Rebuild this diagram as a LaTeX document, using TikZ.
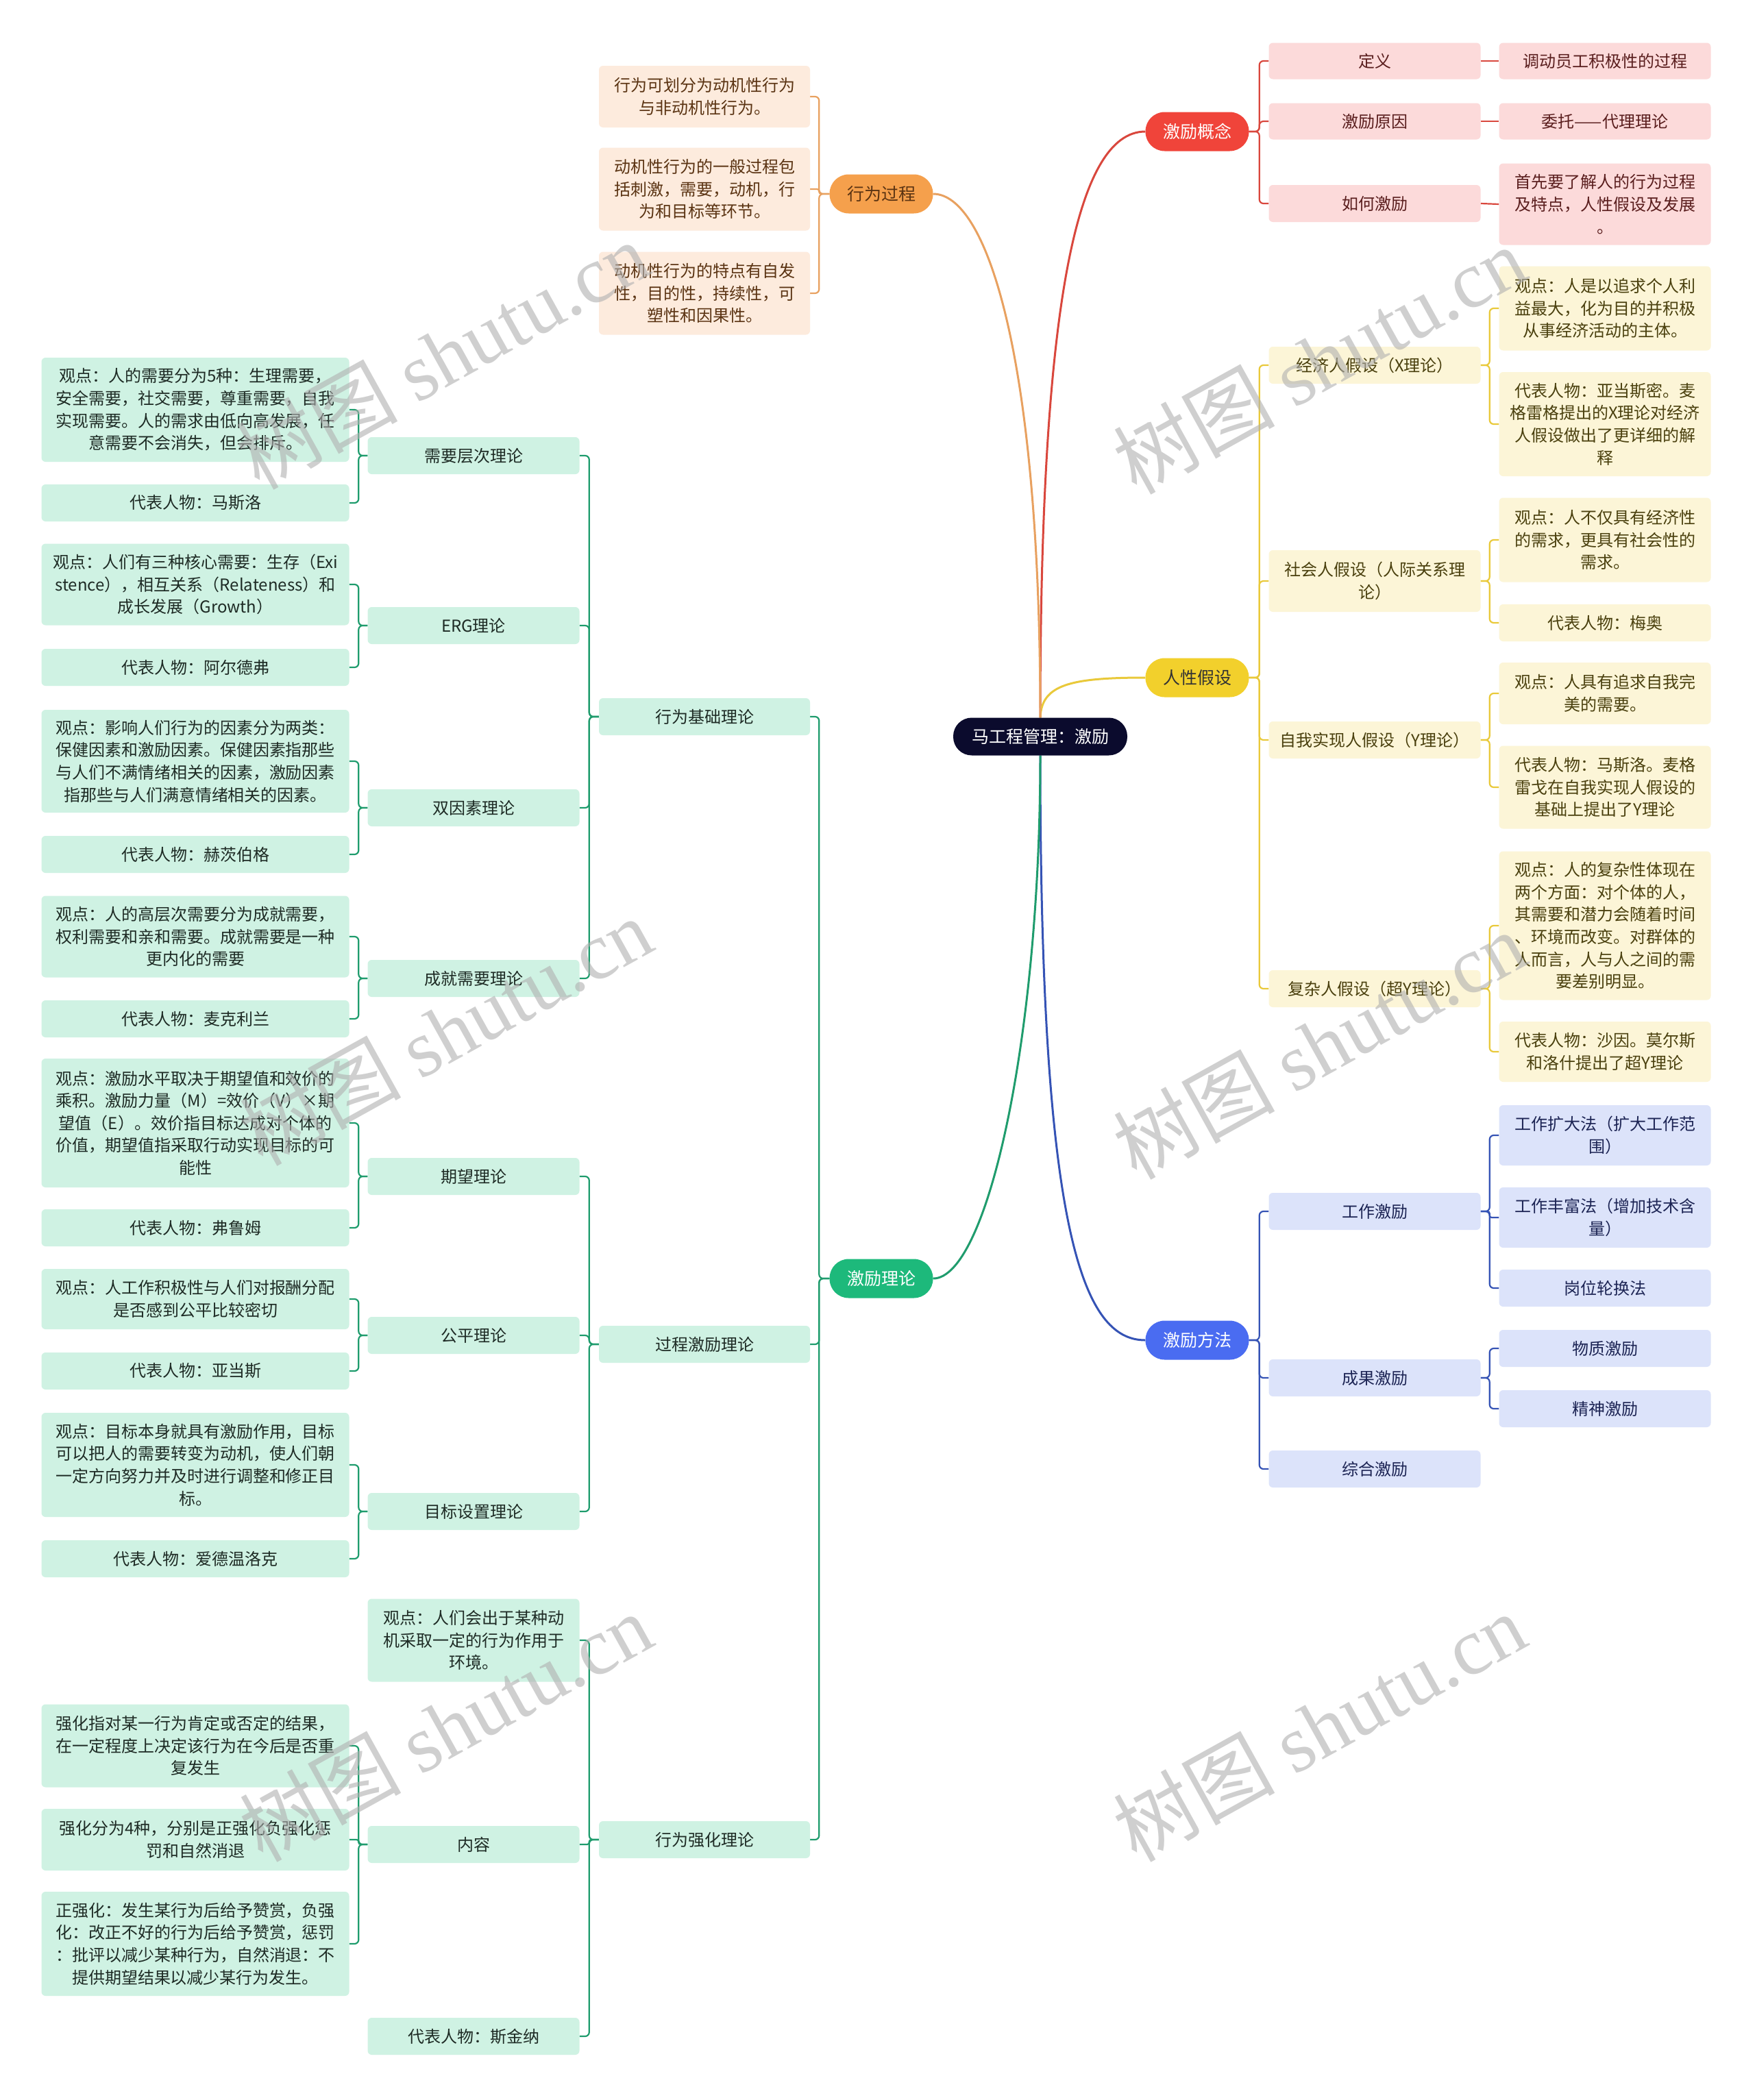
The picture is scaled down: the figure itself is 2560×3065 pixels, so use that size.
\documentclass[tikz,border=0pt]{standalone}
\usepackage{fontspec}
\setmainfont{Noto Sans CJK SC}
\newfontfamily\wmfont{Liberation Serif}
\usetikzlibrary{backgrounds}
\definecolor{rootc}{HTML}{0B0B2D}
\definecolor{redm}{HTML}{F0443A}
\definecolor{redl}{HTML}{D9473D}
\definecolor{redf}{HTML}{FCDADA}
\definecolor{redt}{HTML}{5A1E1E}
\definecolor{yelm}{HTML}{F2D02C}
\definecolor{yell}{HTML}{E9C93A}
\definecolor{yelf}{HTML}{FCF5D7}
\definecolor{yelt}{HTML}{4A400E}
\definecolor{blum}{HTML}{4A6CF1}
\definecolor{blul}{HTML}{3553B5}
\definecolor{bluf}{HTML}{DCE3FA}
\definecolor{blut}{HTML}{1C2454}
\definecolor{orgm}{HTML}{F5A04C}
\definecolor{orgl}{HTML}{E8A160}
\definecolor{orgf}{HTML}{FDEBDD}
\definecolor{orgt}{HTML}{5A3312}
\definecolor{grnm}{HTML}{1DB97B}
\definecolor{grnl}{HTML}{1F9C6D}
\definecolor{grnf}{HTML}{CFF2E3}
\definecolor{grnt}{HTML}{1E2B25}
\definecolor{wmc}{HTML}{B0B0B0}
\begin{document}
\begin{tikzpicture}[x=1pt,y=-1pt,
  box/.style={rounded corners=6pt, inner sep=0pt, align=center, font=\fontsize{24}{32.6}\selectfont},
  sz/.style 2 args={minimum width=#1pt, minimum height=#2pt},
  rbox/.style={box, fill=redf, text=redt},
  ybox/.style={box, fill=yelf, text=yelt},
  bbox/.style={box, fill=bluf, text=blut},
  obox/.style={box, fill=orgf, text=orgt},
  gbox/.style={box, fill=grnf, text=grnt},
  mbox/.style={rounded corners=28pt, inner sep=0pt, minimum width=151pt, minimum height=57pt, font=\fontsize{25}{30}\selectfont},
  ln/.style={line width=2.2pt, rounded corners=6pt},
  mln/.style={line width=3pt},
  wm/.style={text=wmc, opacity=0.6, rotate=29, font=\fontsize{118}{120}\selectfont, inner sep=0pt}
]
\useasboundingbox (0,0) rectangle (2560,3065);

% ---------- nodes ----------
\node[fill=rootc, text=white, rounded corners=27pt, inner sep=0pt, minimum width=254pt, minimum height=55pt, font=\fontsize{25}{30}\selectfont] (root) at (1518,1075) {马工程管理：激励};

% red branch
\node[mbox, fill=redm, text=white] (jl) at (1747,192) {激励概念};
\node[rbox, sz={309}{53}] (dy) at (2006,89) {定义};
\node[rbox, sz={309}{53}] (yy) at (2006,177) {激励原因};
\node[rbox, sz={309}{54}] (rh) at (2006,297) {如何激励};
\node[rbox, sz={309}{53}] (dy2) at (2342,89) {调动员工积极性的过程};
\node[rbox, sz={309}{53}] (yy2) at (2342,177) {委托——代理理论};
\node[rbox, sz={309}{119}] (rh2) at (2342,298) {首先要了解人的行为过程\\及特点，人性假设及发展\\。};

% yellow branch
\node[mbox, fill=yelm, text=black!80] (rx) at (1747,989) {人性假设};
\node[ybox, sz={309}{54}] (jj) at (2006,533) {经济人假设（X理论）};
\node[ybox, sz={309}{90}] (sh) at (2006,848) {社会人假设（人际关系理\\论）};
\node[ybox, sz={309}{54}] (zw) at (2006,1080) {自我实现人假设（Y理论）};
\node[ybox, sz={309}{54}] (fz) at (2006,1443) {复杂人假设（超Y理论）};
\node[ybox, sz={309}{123}] (jj1) at (2342,450) {观点：人是以追求个人利\\益最大，化为目的并积极\\从事经济活动的主体。};
\node[ybox, sz={309}{152}] (jj2) at (2342,619) {代表人物：亚当斯密。麦\\格雷格提出的X理论对经济\\人假设做出了更详细的解\\释};
\node[ybox, sz={309}{123}] (sh1) at (2342,788) {观点：人不仅具有经济性\\的需求，更具有社会性的\\需求。};
\node[ybox, sz={309}{54}] (sh2) at (2342,909) {代表人物：梅奥};
\node[ybox, sz={309}{90}] (zw1) at (2342,1012) {观点：人具有追求自我完\\美的需要。};
\node[ybox, sz={309}{121}] (zw2) at (2342,1149) {代表人物：马斯洛。麦格\\雷戈在自我实现人假设的\\基础上提出了Y理论};
\node[ybox, sz={309}{217}] (fz1) at (2342,1351) {观点：人的复杂性体现在\\两个方面：对个体的人，\\其需要和潜力会随着时间\\、环境而改变。对群体的\\人而言，人与人之间的需\\要差别明显。};
\node[ybox, sz={309}{88}] (fz2) at (2342,1535) {代表人物：沙因。莫尔斯\\和洛什提出了超Y理论};

% blue branch
\node[mbox, fill=blum, text=white] (ff) at (1747,1956) {激励方法};
\node[bbox, sz={309}{54}] (gz) at (2006,1768) {工作激励};
\node[bbox, sz={309}{54}] (cg) at (2006,2011) {成果激励};
\node[bbox, sz={309}{54}] (zh) at (2006,2144) {综合激励};
\node[bbox, sz={309}{88}] (gz1) at (2342,1657) {工作扩大法（扩大工作范\\围）};
\node[bbox, sz={309}{88}] (gz2) at (2342,1777) {工作丰富法（增加技术含\\量）};
\node[bbox, sz={309}{54}] (gz3) at (2342,1880) {岗位轮换法};
\node[bbox, sz={309}{54}] (cg1) at (2342,1968) {物质激励};
\node[bbox, sz={309}{54}] (cg2) at (2342,2056) {精神激励};

% orange branch
\node[mbox, fill=orgm, text=orgt] (xg) at (1286,283) {行为过程};
\node[obox, sz={308}{90}] (xg1) at (1028,141) {行为可划分为动机性行为\\与非动机性行为。};
\node[obox, sz={308}{121}] (xg2) at (1028,276) {动机性行为的一般过程包\\括刺激，需要，动机，行\\为和目标等环节。};
\node[obox, sz={308}{121}] (xg3) at (1028,428) {动机性行为的特点有自发\\性，目的性，持续性，可\\塑性和因果性。};

% green branch
\node[mbox, fill=grnm, text=white] (jt) at (1286,1866) {激励理论};
\node[gbox, sz={308}{54}] (jc) at (1028,1046) {行为基础理论};
\node[gbox, sz={308}{54}] (gc) at (1028,1962) {过程激励理论};
\node[gbox, sz={308}{54}] (qh) at (1028,2685) {行为强化理论};

\node[gbox, sz={309}{54}] (xq) at (691,665) {需要层次理论};
\node[gbox, sz={309}{54}] (erg) at (691,913) {ERG理论};
\node[gbox, sz={309}{54}] (sy) at (691,1179) {双因素理论};
\node[gbox, sz={309}{54}] (cj) at (691,1428) {成就需要理论};
\node[gbox, sz={449}{152}] (xq1) at (285,598) {观点：人的需要分为5种：生理需要，\\安全需要，社交需要，尊重需要，自我\\实现需要。人的需求由低向高发展，任\\意需要不会消失，但会排斥。};
\node[gbox, sz={449}{54}] (xq2) at (285,734) {代表人物：马斯洛};
\node[gbox, sz={449}{119}] (erg1) at (285,853) {观点：人们有三种核心需要：生存（Exi\\stence），相互关系（Relateness）和\\成长发展（Growth）};
\node[gbox, sz={449}{54}] (erg2) at (285,974) {代表人物：阿尔德弗};
\node[gbox, sz={449}{150}] (sy1) at (285,1111) {观点：影响人们行为的因素分为两类：\\保健因素和激励因素。保健因素指那些\\与人们不满情绪相关的因素，激励因素\\指那些与人们满意情绪相关的因素。};
\node[gbox, sz={449}{54}] (sy2) at (285,1247) {代表人物：赫茨伯格};
\node[gbox, sz={449}{119}] (cj1) at (285,1367) {观点：人的高层次需要分为成就需要，\\权利需要和亲和需要。成就需要是一种\\更内化的需要};
\node[gbox, sz={449}{54}] (cj2) at (285,1487) {代表人物：麦克利兰};

\node[gbox, sz={309}{54}] (qw) at (691,1717) {期望理论};
\node[gbox, sz={309}{54}] (gp) at (691,1949) {公平理论};
\node[gbox, sz={309}{54}] (mb) at (691,2206) {目标设置理论};
\node[gbox, sz={449}{188}] (qw1) at (285,1639) {观点：激励水平取决于期望值和效价的\\乘积。激励力量（M）=效价（V）×期\\望值（E）。效价指目标达成对个体的\\价值，期望值指采取行动实现目标的可\\能性};
\node[gbox, sz={449}{54}] (qw2) at (285,1792) {代表人物：弗鲁姆};
\node[gbox, sz={449}{88}] (gp1) at (285,1896) {观点：人工作积极性与人们对报酬分配\\是否感到公平比较密切};
\node[gbox, sz={449}{54}] (gp2) at (285,2001) {代表人物：亚当斯};
\node[gbox, sz={449}{152}] (mb1) at (285,2138) {观点：目标本身就具有激励作用，目标\\可以把人的需要转变为动机，使人们朝\\一定方向努力并及时进行调整和修正目\\标。};
\node[gbox, sz={449}{54}] (mb2) at (285,2275) {代表人物：爱德温洛克};

\node[gbox, sz={309}{121}] (qh1) at (691,2394) {观点：人们会出于某种动\\机采取一定的行为作用于\\环境。};
\node[gbox, sz={309}{54}] (nr) at (691,2692) {内容};
\node[gbox, sz={309}{54}] (qh3) at (691,2972) {代表人物：斯金纳};
\node[gbox, sz={449}{121}] (nr1) at (285,2548) {强化指对某一行为肯定或否定的结果，\\在一定程度上决定该行为在今后是否重\\复发生};
\node[gbox, sz={449}{90}] (nr2) at (285,2685) {强化分为4种，分别是正强化负强化惩\\罚和自然消退};
\node[gbox, sz={449}{152}] (nr3) at (285,2837) {正强化：发生某行为后给予赞赏，负强\\化：改正不好的行为后给予赞赏，惩罚\\：批评以减少某种行为，自然消退：不\\提供期望结果以减少某行为发生。};

% ---------- connectors (behind the nodes) ----------
\begin{scope}[on background layer]
\fill[white] (0,0) rectangle (2560,3065);
\draw[mln, redl] (root.north) .. controls (1518,450) and (1570,192) .. (jl.west);
\draw[mln, yell] (root.north) .. controls (1520,1000) and (1560,989) .. (rx.west);
\draw[mln, blul] (root.south) .. controls (1518,1800) and (1580,1956) .. (ff.west);
\draw[mln, orgl] (root.north) .. controls (1518,520) and (1440,283) .. (xg.east);
\draw[mln, grnl] (root.south) .. controls (1518,1520) and (1440,1866) .. (jt.east);

\foreach \c in {dy,yy,rh} \draw[ln, redl] (jl.east) -- ++(15,0) |- (\c.west);
\draw[ln, redl] (dy.east) -- (dy2.west);
\draw[ln, redl] (yy.east) -- (yy2.west);
\draw[ln, redl] (rh.east) -- (rh2.west);

\foreach \c in {jj,sh,zw,fz} \draw[ln, yell] (rx.east) -- ++(15,0) |- (\c.west);
\foreach \c in {jj1,jj2} \draw[ln, yell] (jj.east) -- ++(13,0) |- (\c.west);
\foreach \c in {sh1,sh2} \draw[ln, yell] (sh.east) -- ++(13,0) |- (\c.west);
\foreach \c in {zw1,zw2} \draw[ln, yell] (zw.east) -- ++(13,0) |- (\c.west);
\foreach \c in {fz1,fz2} \draw[ln, yell] (fz.east) -- ++(13,0) |- (\c.west);

\foreach \c in {gz,cg,zh} \draw[ln, blul] (ff.east) -- ++(15,0) |- (\c.west);
\foreach \c in {gz1,gz3} \draw[ln, blul] (gz.east) -- ++(13,0) |- (\c.west);
\draw[ln, blul, rounded corners=3pt] (gz.east) -- ++(13,0) |- (gz2.west);
\foreach \c in {cg1,cg2} \draw[ln, blul] (cg.east) -- ++(13,0) |- (\c.west);

\foreach \c in {xg1,xg3} \draw[ln, orgl] (xg.west) -- ++(-15,0) |- (\c.east);
\draw[ln, orgl, rounded corners=3pt] (xg.west) -- ++(-15,0) |- (xg2.east);

\foreach \c in {jc,gc,qh} \draw[ln, grnl] (jt.west) -- ++(-15,0) |- (\c.east);
\foreach \c in {xq,erg,sy,cj} \draw[ln, grnl] (jc.west) -- ++(-14,0) |- (\c.east);
\foreach \c in {qw,gp,mb} \draw[ln, grnl] (gc.west) -- ++(-14,0) |- (\c.east);
\foreach \c in {qh1,qh3} \draw[ln, grnl] (qh.west) -- ++(-14,0) |- (\c.east);
\draw[ln, grnl, rounded corners=3pt] (qh.west) -- ++(-14,0) |- (nr.east);
\foreach \c in {xq1,xq2} \draw[ln, grnl] (xq.west) -- ++(-13,0) |- (\c.east);
\foreach \c in {erg1,erg2} \draw[ln, grnl] (erg.west) -- ++(-13,0) |- (\c.east);
\foreach \c in {sy1,sy2} \draw[ln, grnl] (sy.west) -- ++(-13,0) |- (\c.east);
\foreach \c in {cj1,cj2} \draw[ln, grnl] (cj.west) -- ++(-13,0) |- (\c.east);
\foreach \c in {qw1,qw2} \draw[ln, grnl] (qw.west) -- ++(-13,0) |- (\c.east);
\foreach \c in {gp1,gp2} \draw[ln, grnl] (gp.west) -- ++(-13,0) |- (\c.east);
\foreach \c in {mb1,mb2} \draw[ln, grnl] (mb.west) -- ++(-13,0) |- (\c.east);
\foreach \c in {nr1,nr3} \draw[ln, grnl] (nr.west) -- ++(-13,0) |- (\c.east);
\draw[ln, grnl, rounded corners=3pt] (nr.west) -- ++(-13,0) |- (nr2.east);
\end{scope}

% ---------- watermarks ----------
\node[wm] (w1) at (645,518) {树图 {\wmfont shutu.cn}};
\node[wm] (w2) at (1925,525) {树图 {\wmfont shutu.cn}};
\node[wm] (w3) at (650,1505) {树图 {\wmfont shutu.cn}};
\node[wm] (w4) at (1925,1525) {树图 {\wmfont shutu.cn}};
\node[wm] (w5) at (650,2520) {树图 {\wmfont shutu.cn}};
\node[wm] (w6) at (1925,2520) {树图 {\wmfont shutu.cn}};
\end{tikzpicture}
\end{document}
